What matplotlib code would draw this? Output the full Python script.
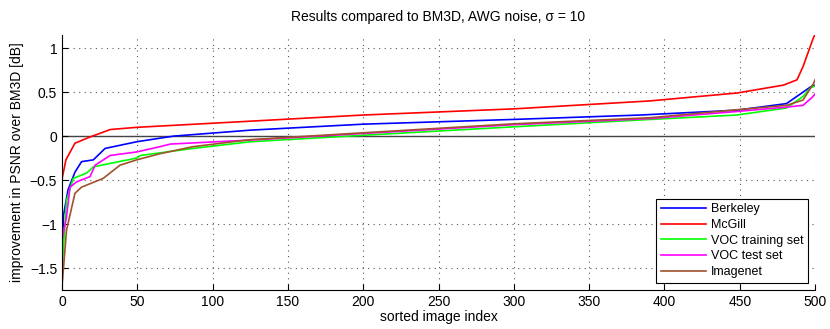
"""Improvement in PSNR over BM3D per sorted image, AWG noise sigma = 10."""

import matplotlib
matplotlib.use("Agg")
import matplotlib.pyplot as plt

plt.rcParams.update({
    "font.family": ["Liberation Sans", "DejaVu Sans"],
    "font.size": 10,
    "xtick.direction": "in",
    "ytick.direction": "in",
})

# sorted image index -> improvement [dB]
berkeley_x = [0, 1, 4, 8.6, 13, 20.8, 28.6, 49.6, 74, 125, 200, 300, 384, 448, 481, 492, 497, 500]
berkeley_y = [-1.37, -0.9, -0.61, -0.41, -0.29, -0.27, -0.14, -0.064, 0.0, 0.068, 0.136, 0.19, 0.24, 0.295, 0.37, 0.50, 0.56, 0.58]

mcgill_x = [0, 2.6, 8.6, 18.6, 32, 49.6, 125, 200, 300, 390, 448, 479, 488, 492, 496, 498.5, 500]
mcgill_y = [-0.49, -0.27, -0.08, -0.01, 0.075, 0.1, 0.17, 0.24, 0.31, 0.40, 0.49, 0.58, 0.64, 0.79, 0.98, 1.10, 1.16]

voc_train_x = [0, 3, 7.5, 16.4, 20.8, 32, 49.6, 52, 87, 125, 200, 300, 391, 448, 481, 492, 497, 500]
voc_train_y = [-1.52, -0.73, -0.48, -0.42, -0.35, -0.31, -0.25, -0.22, -0.14, -0.064, 0.01, 0.106, 0.19, 0.24, 0.32, 0.45, 0.55, 0.57]

voc_test_x = [0, 3, 5.3, 9.7, 18.6, 22, 32, 49.6, 65, 72, 125, 200, 300, 391, 448, 481, 492, 498, 500]
voc_test_y = [-1.18, -0.92, -0.58, -0.52, -0.46, -0.33, -0.22, -0.18, -0.12, -0.09, -0.045, 0.03, 0.13, 0.20, 0.28, 0.33, 0.35, 0.44, 0.48]

imagenet_x = [0, 3, 8.6, 13, 27.4, 38.5, 49.6, 65, 87, 125, 200, 300, 391, 448, 481, 492, 499, 500]
imagenet_y = [-1.71, -1.07, -0.65, -0.58, -0.48, -0.33, -0.27, -0.2, -0.12, -0.04, 0.038, 0.14, 0.21, 0.30, 0.35, 0.41, 0.60, 0.64]

fig = plt.figure(figsize=(8.3, 3.29), dpi=100)
ax = fig.add_axes([0.0747, 0.1185, 0.9073, 0.7751])

ax.axhline(0, color="#404040", linewidth=1.0, zorder=1)
ax.plot(berkeley_x, berkeley_y, color="#0000ff", linewidth=1.2, label="Berkeley")
ax.plot(mcgill_x, mcgill_y, color="#ff0000", linewidth=1.2, label="McGill")
ax.plot(voc_train_x, voc_train_y, color="#00ff00", linewidth=1.2, label="VOC training set")
ax.plot(voc_test_x, voc_test_y, color="#ff00ff", linewidth=1.2, label="VOC test set")
ax.plot(imagenet_x, imagenet_y, color="#a0522d", linewidth=1.2, label="Imagenet")

ax.set_xlim(0, 500)
ax.set_ylim(-1.75, 1.15)
ax.set_xticks(range(0, 501, 50))
ax.set_yticks([-1.5, -1, -0.5, 0, 0.5, 1])
ax.set_yticklabels(["\u22121.5", "\u22121", "\u22120.5", "0", "0.5", "1"])
ax.grid(True, linestyle=(0, (1, 4)), color="#555555", linewidth=0.8)
ax.spines["top"].set_visible(False)
ax.spines["right"].set_visible(False)
ax.tick_params(length=4)

ax.set_xlabel("sorted image index", labelpad=1)
ax.set_ylabel("improvement in PSNR over BM3D [dB]")
ax.set_title("Results compared to BM3D, AWG noise, \u03c3 = 10", fontsize=10, pad=10)

leg = ax.legend(loc="lower right", fancybox=False, framealpha=1, edgecolor="black",
                borderaxespad=0.6, handlelength=3.6, handletextpad=0.4,
                labelspacing=0.3, borderpad=0.35, fontsize=9)
leg.get_frame().set_linewidth(0.8)

plt.savefig("out.png", dpi=100)
